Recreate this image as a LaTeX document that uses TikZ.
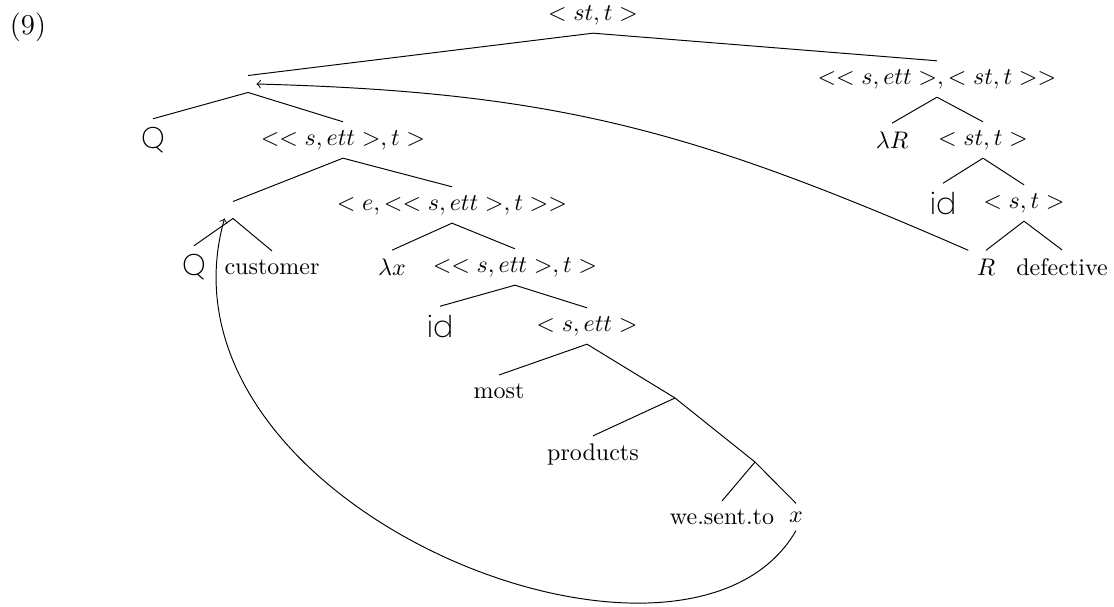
\documentclass[tikz,border=0pt]{standalone}
\usepackage{tikz}
\usepackage{fontspec}
\newfontfamily\geofont[Scale=1.25]{Poppins ExtraLight}

\begin{document}
\begin{tikzpicture}[x=0.416667pt,y=-0.416667pt]
\useasboundingbox (0,0) rectangle (1114,607);
\node (ex) at (28,27) {\large (9)};
\node (root) at (593,15) {$<st,t>$};
\node (b1) at (248,84) {};
\node (q1) at (153,140) {\geofont Q};
\node (n1) at (343,140) {$<<s,ett>,t>$};
\node (b2) at (233,210) {};
\node (n2) at (452,205) {$<e,<<s,ett>,t>>$};
\node (q2) at (194,267) {\geofont Q};
\node (cust) at (272,267) {customer};
\node (lx) at (392,267) {$\lambda x$};
\node (n3) at (515,267) {$<<s,ett>,t>$};
\node (id1) at (440,326) {\geofont id};
\node (n4) at (587,326) {$<s,ett>$};
\node (most) at (499,391) {most};
\coordinate (b3) at (675,398);
\node (prod) at (593,455) {products};
\coordinate (b4) at (755,462);
\node (wst) at (722,517) {we.sent.to};
\node (x) at (796,517) {$x$};
\node (n5) at (937,79) {$<<s,ett>,<st,t>>$};
\node (lR) at (892,140) {$\lambda R$};
\node (n6) at (983,140) {$<st,t>$};
\node (id2) at (943,203) {\geofont id};
\node (n7) at (1024,203) {$<s,t>$};
\node (R) at (986,267) {$R$};
\node (def) at (1062,267) {defective};
\draw (root.south) -- (b1.north);
\draw (root.south) -- (n5.north);
\draw (b1.south) -- (q1.north);
\draw (b1.south) -- (n1.north);
\draw (n1.south) -- (b2.north);
\draw (n1.south) -- (n2.north);
\draw (b2.south) -- (q2.north);
\draw (b2.south) -- (cust.north);
\draw (n2.south) -- (lx.north);
\draw (n2.south) -- (n3.north);
\draw (n3.south) -- (id1.north);
\draw (n3.south) -- (n4.north);
\draw (n4.south) -- (most.north);
\draw (n4.south) -- (b3);
\draw (b3) -- (prod.north);
\draw (b3) -- (b4);
\draw (b4) -- (wst.north);
\draw (b4) -- (x.north);
\draw (n5.south) -- (lR.north);
\draw (n5.south) -- (n6.north);
\draw (n6.south) -- (id2.north);
\draw (n6.south) -- (n7.north);
\draw (n7.south) -- (R.north);
\draw (n7.south) -- (def.north);
\draw[->] (R.north west) .. controls +(-275,-120) and +(300,8) .. (b1.east);
\draw[->] (x.south) .. controls +(-110,191) and +(-81,288) .. (b2.south west);
\end{tikzpicture}
\end{document}
